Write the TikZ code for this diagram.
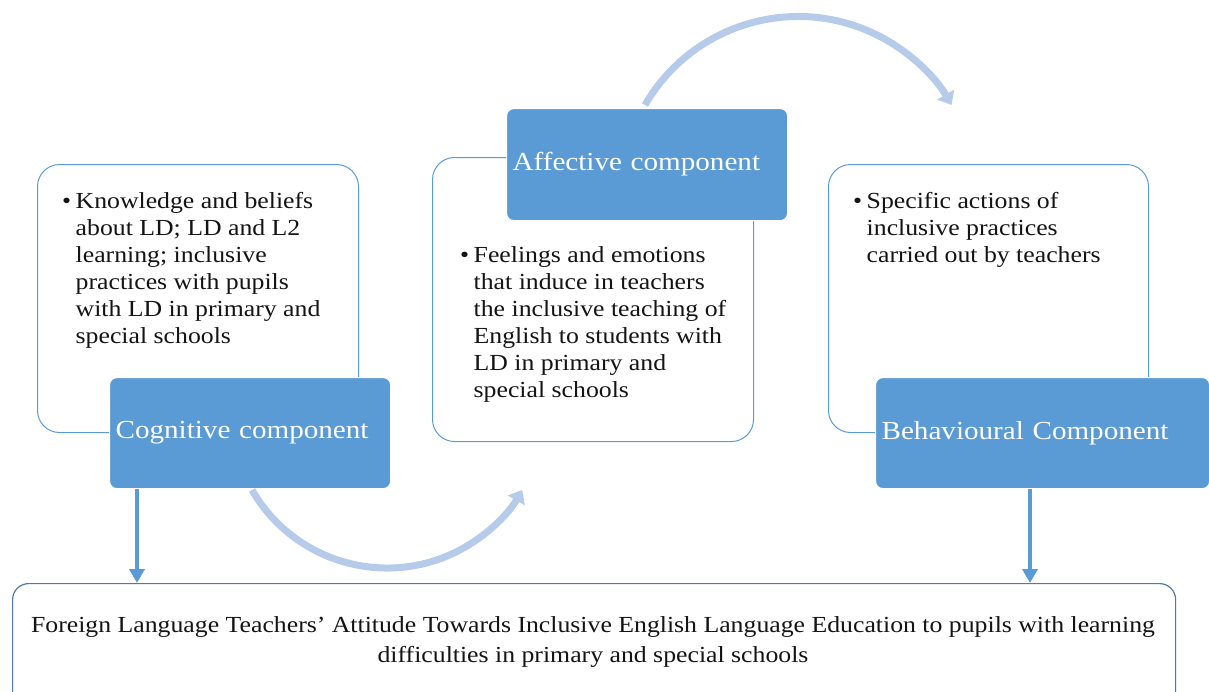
\documentclass[tikz,border=0pt]{standalone}
\usepackage{fontspec}
\setmainfont{Liberation Serif}[FakeStretch=1.12]
\usetikzlibrary{arrows.meta}
\definecolor{accent}{RGB}{91,155,213}
\definecolor{flow}{RGB}{182,203,233}
\definecolor{goalline}{RGB}{78,122,170}
\definecolor{ink}{RGB}{20,20,20}
% a bulleted item: bullet in its own box, lines stacked beside it
\newcommand{\itembullet}[1]{\makebox[13.5pt][l]{\textbullet}\parbox[t]{290pt}{\raggedright #1}}

\begin{document}
\begin{tikzpicture}[x=1pt,y=-1pt,
  frame/.style={draw=accent, line width=1pt, rounded corners=22pt, fill=white, inner sep=0pt, anchor=north west},
  header/.style={fill=accent, draw=white, line width=1.2pt, rounded corners=7pt, anchor=north west,
                 text=white, font=\fontsize{26}{30}\selectfont, align=left, inner xsep=6pt},
  bullets/.style={text=ink, font=\fontsize{23}{27}\selectfont, inner sep=0pt, anchor=north west},
  goalbox/.style={draw=goalline, line width=1.2pt, rounded corners=16pt, fill=white, inner sep=0pt, anchor=north west},
  goaltext/.style={text=ink, font=\fontsize{23}{30}\selectfont, inner sep=0pt, anchor=north, align=center},
  cycle/.style={draw=flow, line width=7pt, -{Triangle[width=19pt,length=12pt]}},
  down/.style={draw=accent, line width=4pt, -{Triangle[width=15pt,length=14pt]}},
]
\useasboundingbox (0,0) rectangle (1209,691);

% outlined component boxes
\node[frame, minimum width=321, minimum height=268] (kframe) at (37,164) {};
\node[frame, minimum width=321, minimum height=284] (fframe) at (432,157) {};
\node[frame, minimum width=320, minimum height=268] (aframe) at (828,164) {};

% bullet texts
\node[bullets] (ktext) at (62,192) {\itembullet{Knowledge and beliefs\\about LD; LD and L2\\learning; inclusive\\practices with pupils\\with LD in primary and\\special schools}};
\node[bullets] (ftext) at (460,246) {\itembullet{Feelings and emotions\\that induce in teachers\\the inclusive teaching of\\English to students with\\LD in primary and\\special schools}};
\node[bullets] (atext) at (853,192) {\itembullet{Specific actions of\\inclusive practices\\carried out by teachers}};

% filled component headers
\node[header, text width=269, minimum height=111] (cog) at (109,377) {Cognitive component};
\node[header, text width=269, minimum height=112] (aff) at (506,108) {Affective component};
\node[header, text width=322, minimum height=111] (beh) at (875,377) {Behavioural Component};

% attitude box
\node[goalbox, minimum width=1163, minimum height=125] (goal) at (12,583) {};
\node[goaltext] (goaltxt) at (593,616) {Foreign Language Teachers’ Attitude Towards Inclusive English Language Education to pupils with learning\\difficulties in primary and special schools};

% cycle arrows between the components
\coordinate (c1) at (252,490);
\coordinate (c2) at (645,105);
\draw[cycle] (c1) arc[start angle=150, end angle=30, radius=156];
\draw[cycle] (c2) arc[start angle=210, end angle=330, radius=177];

% arrows down to the attitude box
\coordinate (d1) at ([xshift=28pt]cog.south west);
\coordinate (d2) at ([xshift=155pt]beh.south west);
\draw[down] (d1) -- (d1 |- goal.north);
\draw[down] (d2) -- (d2 |- goal.north);
\end{tikzpicture}
\end{document}
